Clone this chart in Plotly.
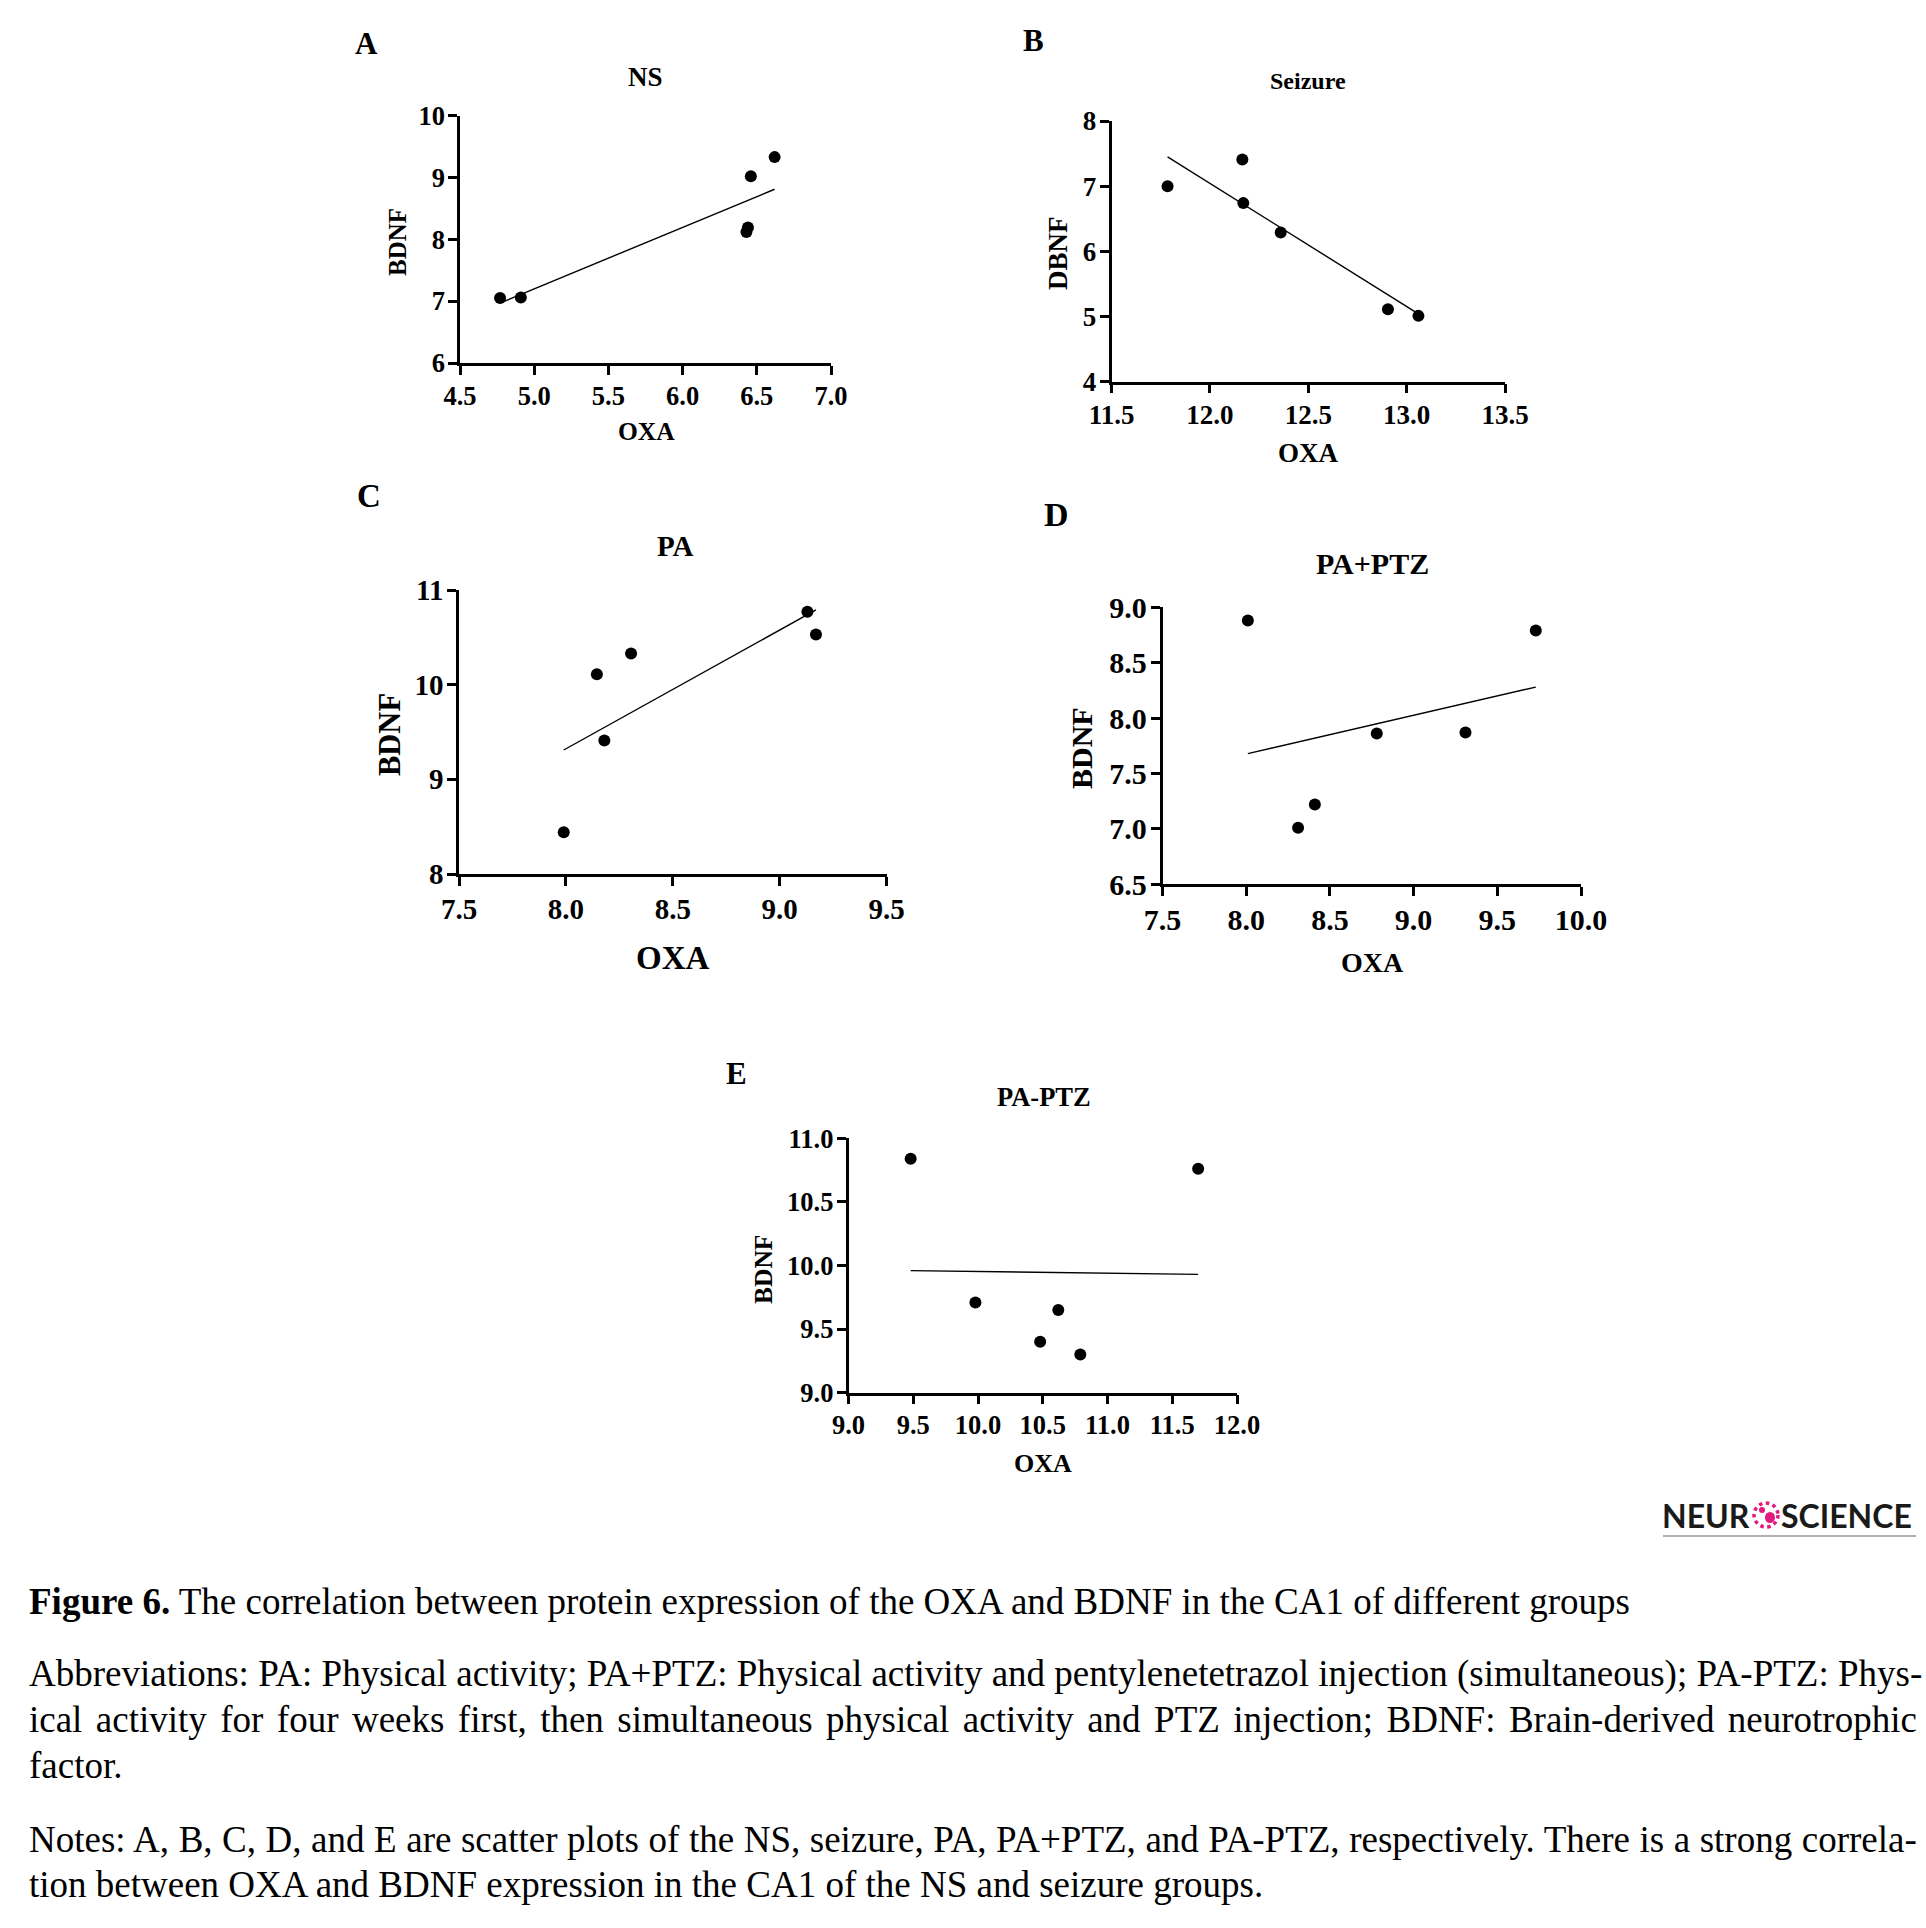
import plotly.graph_objects as go

W, H = 1926, 1928


def px(x):
    return x / W


def py(y):
    return 1 - y / H


# ---------------- data ----------------
ns_oxa = [4.77, 4.91, 6.43, 6.44, 6.46, 6.62]
ns_bdnf = [7.05, 7.06, 8.12, 8.19, 9.02, 9.33]
ns_fit_oxa = [4.77, 6.62]
ns_fit_bdnf = [6.97, 8.81]

seizure_oxa = [11.785, 12.165, 12.17, 12.36, 12.905, 13.06]
seizure_bdnf = [7.00, 7.41, 6.74, 6.29, 5.11, 5.01]
seizure_fit_oxa = [11.785, 13.06]
seizure_fit_bdnf = [7.45, 5.04]

pa_oxa = [7.99, 8.145, 8.18, 8.305, 9.13, 9.17]
pa_bdnf = [8.44, 10.11, 9.41, 10.33, 10.77, 10.53]
pa_fit_oxa = [7.99, 9.17]
pa_fit_bdnf = [9.31, 10.79]

paptz_oxa = [8.01, 8.31, 8.41, 8.78, 9.31, 9.73]
paptz_bdnf = [8.88, 7.01, 7.22, 7.86, 7.87, 8.79]
paptz_fit_oxa = [8.01, 9.73]
paptz_fit_bdnf = [7.68, 8.28]

pa_minus_ptz_oxa = [9.48, 9.98, 10.48, 10.62, 10.79, 11.70]
pa_minus_ptz_bdnf = [10.84, 9.71, 9.40, 9.65, 9.30, 10.76]
pa_minus_ptz_fit_oxa = [9.48, 11.70]
pa_minus_ptz_fit_bdnf = [9.96, 9.93]

panel_letters = ["A", "B", "C", "D", "E"]
panel_titles = ["NS", "Seizure", "PA", "PA+PTZ", "PA-PTZ"]
x_titles = ["OXA", "OXA", "OXA", "OXA", "OXA"]
y_titles = ["BDNF", "DBNF", "BDNF", "BDNF", "BDNF"]
x_ranges = [[4.5, 7.0], [11.5, 13.5], [7.5, 9.5], [7.5, 10.0], [9.0, 12.0]]
y_ranges = [[6, 10], [4, 8], [8, 11], [6.5, 9.0], [9.0, 11.0]]
y_dticks = [1, 1, 1, 0.5, 0.5]
y_formats = [".0f", ".0f", ".0f", ".1f", ".1f"]

caption_title = "Figure 6."
caption_rest = " The correlation between protein expression of the OXA and BDNF in the CA1 of different groups"
abbrev_lines = [
    "Abbreviations: PA: Physical activity; PA+PTZ: Physical activity and pentylenetetrazol injection (simultaneous); PA-PTZ: Phys-",
    "ical activity for four weeks first, then simultaneous physical activity and PTZ injection; BDNF: Brain-derived neurotrophic",
    "factor.",
]
notes_lines = [
    "Notes: A, B, C, D, and E are scatter plots of the NS, seizure, PA, PA+PTZ, and PA-PTZ, respectively. There is a strong correla-",
    "tion between OXA and BDNF expression in the CA1 of the NS and seizure groups.",
]

series = [
    (ns_oxa, ns_bdnf, ns_fit_oxa, ns_fit_bdnf),
    (seizure_oxa, seizure_bdnf, seizure_fit_oxa, seizure_fit_bdnf),
    (pa_oxa, pa_bdnf, pa_fit_oxa, pa_fit_bdnf),
    (paptz_oxa, paptz_bdnf, paptz_fit_oxa, paptz_fit_bdnf),
    (pa_minus_ptz_oxa, pa_minus_ptz_bdnf, pa_minus_ptz_fit_oxa, pa_minus_ptz_fit_bdnf),
]

# ---------------- layout specs (pixels) ----------------
# plot box: left, right, top, bottom
boxes = [
    (460, 831, 115.7, 363),
    (1111.5, 1505, 121, 381.7),
    (459, 886.5, 590, 874),
    (1162.5, 1581, 607.3, 884.3),
    (848.5, 1237, 1138.3, 1392.7),
]
tick_sizes = [26.5, 27, 29, 30, 26.5]
letter_pos = [(366, 43), (1033, 40), (369, 496), (1056, 515), (736, 1073)]
letter_sizes = [31, 31, 33, 34, 31]
title_pos = [(645, 77), (1308, 81), (675, 546), (1372, 563), (1044, 1097)]
title_sizes = [27, 24, 29, 30, 26.5]
xt_pos = [(646, 432), (1308, 453), (673, 958), (1372, 962), (1043, 1463)]
xt_sizes = [25.5, 27, 33, 28, 26]
yt_pos = [(397, 242), (1058, 253), (390, 735), (1082, 748), (763, 1270)]
yt_sizes = [25, 27, 30.5, 30, 25.5]

SERIF = "Liberation Serif"
fig = go.Figure()
annotations = []
shapes = []


def label(text, x, y, size, angle=0, family=SERIF, color="black", xanchor="center"):
    return dict(text=text, x=px(x), y=py(y), xref="paper", yref="paper",
                xanchor=xanchor, yanchor="middle", showarrow=False, textangle=angle,
                font=dict(family=family, size=size, color=color))


for i, (xs, ys, fx, fy) in enumerate(series):
    n = "" if i == 0 else str(i + 1)
    xa, ya = "x" + n, "y" + n
    fig.add_trace(go.Scatter(x=fx, y=fy, mode="lines", xaxis=xa, yaxis=ya,
                             line=dict(color="black", width=1.4), showlegend=False,
                             hoverinfo="skip"))
    fig.add_trace(go.Scatter(x=xs, y=ys, mode="markers", xaxis=xa, yaxis=ya,
                             marker=dict(color="black", size=12), showlegend=False))
    l, r, t, b = boxes[i]
    axcommon = dict(showgrid=False, zeroline=False, showline=True, linecolor="black",
                    linewidth=2.5, ticks="outside", ticklen=9, tickwidth=2.5,
                    tickcolor="black", automargin=False,
                    tickfont=dict(family=SERIF, size=tick_sizes[i], color="black",
                                  weight="bold"))
    fig.layout["xaxis" + n] = dict(domain=[px(l), px(r)], range=x_ranges[i],
                                   anchor=ya, dtick=0.5, tick0=0, tickformat=".1f",
                                   ticklabelstandoff=-2, **axcommon)
    fig.layout["yaxis" + n] = dict(domain=[py(b), py(t)], range=y_ranges[i],
                                   anchor=xa, dtick=y_dticks[i], tick0=0,
                                   tickformat=y_formats[i], ticklabelstandoff=-2,
                                   **axcommon)
    annotations.append(label("<b>" + panel_letters[i] + "</b>", *letter_pos[i], letter_sizes[i]))
    annotations.append(label("<b>" + panel_titles[i] + "</b>", *title_pos[i], title_sizes[i]))
    annotations.append(label("<b>" + x_titles[i] + "</b>", *xt_pos[i], xt_sizes[i]))
    annotations.append(label("<b>" + y_titles[i] + "</b>", *yt_pos[i], yt_sizes[i], angle=-90))

# ---------------- logo ----------------
LOGO = "Lato"
annotations.append(label("<b>NEUR</b>", 1752, 1515, 32, family=LOGO, color="#1a1a1a",
                         xanchor="right"))
annotations.append(label("<b>SCIENCE</b>", 1779, 1515, 32, family=LOGO, color="#1a1a1a",
                         xanchor="left"))
shapes.append(dict(type="circle", xref="paper", yref="paper",
                   x0=px(1754), x1=px(1778), y0=py(1527), y1=py(1503),
                   line=dict(color="#e2197e", width=3.5, dash="dot")))
shapes.append(dict(type="circle", xref="paper", yref="paper",
                   x0=px(1765), x1=px(1775), y0=py(1523), y1=py(1512),
                   fillcolor="#e2197e", line=dict(width=0)))
shapes.append(dict(type="circle", xref="paper", yref="paper",
                   x0=px(1759), x1=px(1765), y0=py(1513), y1=py(1507),
                   fillcolor="#e2197e", line=dict(width=0)))
shapes.append(dict(type="line", xref="paper", yref="paper",
                   x0=px(1663), x1=px(1916), y0=py(1536), y1=py(1536),
                   line=dict(color="#b0b0b0", width=2)))

# ---------------- caption ----------------
CAP = 37
annotations.append(label("<b>" + caption_title + "</b>" + caption_rest, 27, 1601, CAP,
                         xanchor="left"))
abbrev_gaps = ["0px", "4.2px", "0px"]
for line, yy, gap in zip(abbrev_lines, [1674, 1719, 1765], abbrev_gaps):
    txt = line if gap == "0px" else '<span style="word-spacing:%s">%s</span>' % (gap, line)
    annotations.append(label(txt, 27, yy, CAP, xanchor="left"))
notes_gaps = ["0.3px", "0px"]
for line, yy, gap in zip(notes_lines, [1839, 1884], notes_gaps):
    txt = line if gap == "0px" else '<span style="word-spacing:%s">%s</span>' % (gap, line)
    annotations.append(label(txt, 27, yy, CAP, xanchor="left"))

fig.update_layout(width=W, height=H,
                  margin=dict(l=0, r=0, t=0, b=0, pad=0, autoexpand=False),
                  paper_bgcolor="white", plot_bgcolor="white",
                  annotations=annotations, shapes=shapes, showlegend=False)

fig.write_html("out.html", config={"displayModeBar": False},
               post_script="document.body.style.margin='0px';")
